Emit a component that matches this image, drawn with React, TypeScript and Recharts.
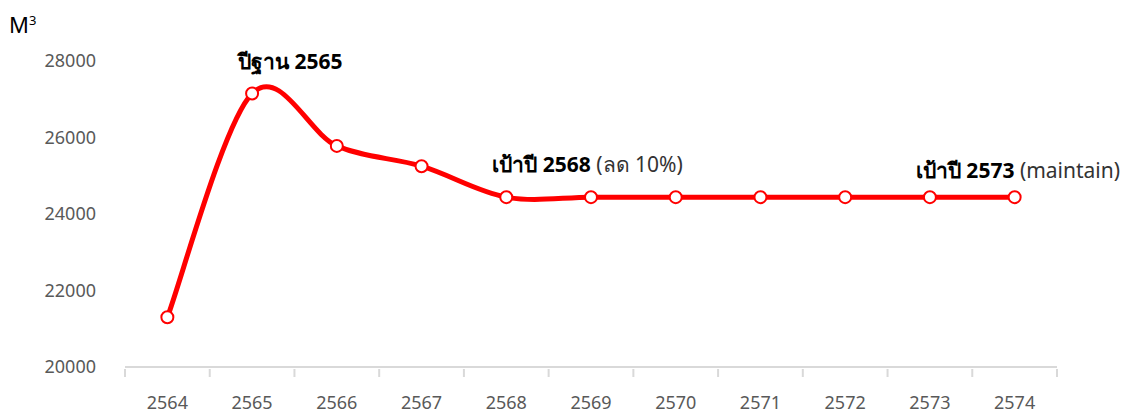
import { LineChart, Line, XAxis, YAxis } from "recharts";

const years = ["2564", "2565", "2566", "2567", "2568", "2569", "2570", "2571", "2572", "2573", "2574"];
const usage = [21300, 27150, 25780, 25250, 24440, 24440, 24440, 24440, 24440, 24440, 24440];
const boldNotes = ["", "ปีฐาน 2565", "", "", "เป้าปี 2568", "", "", "", "", "เป้าปี 2573", ""];
const plainNotes = ["", "", "", "", " (ลด 10%)", "", "", "", "", " (maintain)", ""];
const yTicks = [20000, 22000, 24000, 26000, 28000];

const data = years.map((year, i) => ({
  year,
  usage: usage[i],
  bold: boldNotes[i],
  plain: plainNotes[i],
}));

const W = 1123;
const H = 415;
const M = { top: 61, right: 66, left: 25, bottom: 0 };
const Y_AXIS_W = 100;
const HALF_BAND = (W - M.left - M.right - Y_AXIS_W) / years.length / 2;
const FONT = "'Noto Sans', 'DejaVu Sans', sans-serif";

// Excel-like smoothing (Catmull-Rom as cubic bezier)
function smoothCurve(context: any) {
  let xs: number[] = [];
  let ys: number[] = [];
  return {
    areaStart() {},
    areaEnd() {},
    lineStart() {
      xs = [];
      ys = [];
    },
    point(x: number, y: number) {
      xs.push(+x);
      ys.push(+y);
    },
    lineEnd() {
      const n = xs.length;
      if (!n) return;
      context.moveTo(xs[0], ys[0]);
      for (let i = 0; i < n - 1; i++) {
        const p0 = i > 0 ? i - 1 : i;
        const p3 = i + 2 < n ? i + 2 : i + 1;
        context.bezierCurveTo(
          xs[i] + (xs[i + 1] - xs[p0]) / 6,
          ys[i] + (ys[i + 1] - ys[p0]) / 6,
          xs[i + 1] - (xs[p3] - xs[i]) / 6,
          ys[i + 1] - (ys[p3] - ys[i]) / 6,
          xs[i + 1],
          ys[i + 1]
        );
      }
    },
  };
}

const XTick = (props: any) => {
  const { x, y, payload, index } = props;
  return (
    <g>
      <line x1={x - HALF_BAND} y1={y} x2={x - HALF_BAND} y2={y + 8} stroke="#d9d9d9" strokeWidth={2} />
      {index === years.length - 1 && (
        <line x1={x + HALF_BAND} y1={y} x2={x + HALF_BAND} y2={y + 8} stroke="#d9d9d9" strokeWidth={2} />
      )}
      <text x={x} y={y + 40} textAnchor="middle" fill="#595959" fontSize={18} fontFamily={FONT}>
        {payload.value}
      </text>
    </g>
  );
};

const NoteLabel = (props: any) => {
  const { x, y, index } = props;
  if (!boldNotes[index]) return null;
  const dy = index === 9 ? -19 : -25;
  return (
    <text x={x - 14} y={y + dy} fontSize={21} fontFamily={FONT} fill="#000">
      <tspan fontWeight="bold">{boldNotes[index]}</tspan>
      {plainNotes[index] && <tspan fill="#333">{plainNotes[index]}</tspan>}
    </text>
  );
};

export default function App() {
  return (
    <div style={{ position: "absolute", left: 0, top: 0, width: W, height: H, background: "#fff", fontFamily: FONT }}>
      <div style={{ position: "absolute", left: 9, top: 9, fontSize: 22, color: "#000" }}>
        M<sup style={{ fontSize: 13 }}>3</sup>
      </div>
      <LineChart width={W} height={H} data={data} margin={M}>
        <XAxis
          dataKey="year"
          scale="band"
          axisLine={{ stroke: "#d9d9d9", strokeWidth: 2 }}
          tickLine={false}
          tickSize={0}
          tick={<XTick />}
          height={48}
          interval={0}
        />
        <YAxis
          domain={[20000, 28000]}
          ticks={yTicks}
          width={Y_AXIS_W}
          axisLine={false}
          tickLine={false}
          tickSize={0}
          tickMargin={29}
          tick={{ fill: "#595959", fontSize: 18, fontFamily: FONT }}
        />
        <Line
          dataKey="usage"
          type={smoothCurve as any}
          stroke="#ff0000"
          strokeWidth={5}
          dot={{ r: 6, fill: "#fff", stroke: "#ff0000", strokeWidth: 2 }}
          label={<NoteLabel />}
          isAnimationActive={false}
        />
      </LineChart>
    </div>
  );
}
